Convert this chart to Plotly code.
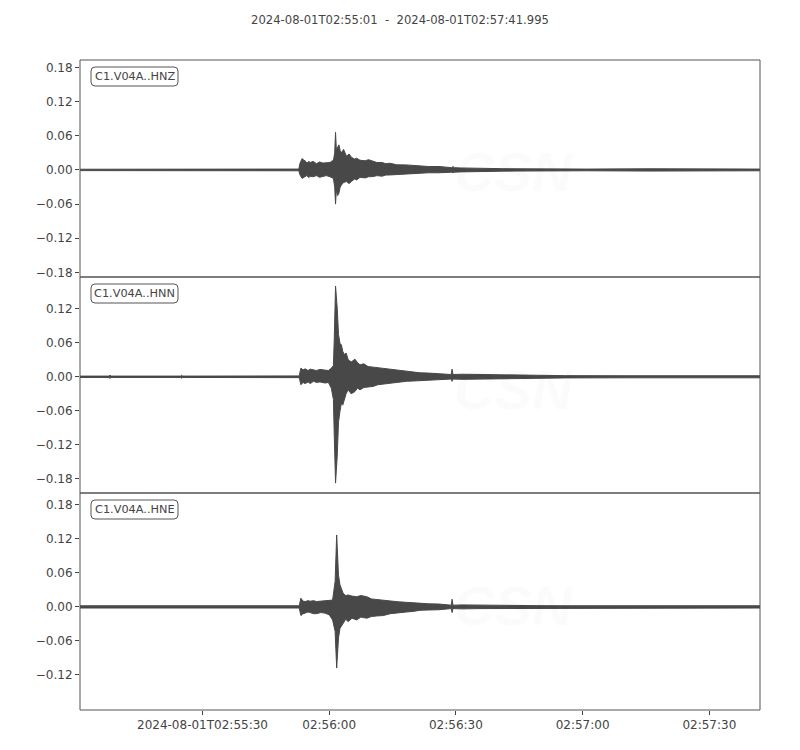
import pandas as pd
import plotly.graph_objects as go

# ---------------- data ----------------
start_time = "2024-08-01 02:55:01"
end_time = "2024-08-01 02:57:41.995"
title_text = "2024-08-01T02:55:01  -  2024-08-01T02:57:41.995"
channels = ["C1.V04A..HNZ", "C1.V04A..HNN", "C1.V04A..HNE"]

# envelope of each trace: seconds after start, upper and lower amplitude
hnz_t = [0, 28, 51.8, 52.1, 52.6, 53.0, 53.3, 53.7, 54.2, 54.5, 55.2, 56, 56.7, 57.5, 58.3,
         59.2, 59.7, 60.0, 60.3, 60.5, 60.7, 61.0, 61.3, 61.6, 61.95, 62.4, 63.1, 63.7, 64.3,
         65.0, 65.5, 66.3, 67.5, 68.3, 69.4, 70.3, 71.5, 72.4, 73.4, 75.0, 77.3, 78.5, 80.5,
         82.5, 85, 87.0, 88.0, 88.3, 88.6, 90, 92, 94, 97, 100, 103, 110, 120, 135, 150, 161]
hnz_up = [0.0012, 0.0012, 0.0015, 0.012, 0.020, 0.017, 0.016, 0.012, 0.015, 0.013, 0.015,
          0.011, 0.014, 0.012, 0.013, 0.013, 0.016, 0.016, 0.030, 0.066, 0.035, 0.040, 0.044,
          0.034, 0.030, 0.036, 0.024, 0.028, 0.022, 0.019, 0.0205, 0.017, 0.016, 0.018, 0.0146,
          0.013, 0.013, 0.011, 0.0117, 0.009, 0.0088, 0.008, 0.007, 0.006, 0.006, 0.004, 0.004,
          0.006, 0.004, 0.0035, 0.003, 0.0028, 0.0025, 0.0022, 0.002, 0.0015, 0.0015, 0.002,
          0.002, 0.0015]
hnz_lo = [-0.0012, -0.0012, -0.0015, -0.009, -0.015, -0.013, -0.012, -0.010, -0.0135,
          -0.011, -0.012, -0.010, -0.013, -0.012, -0.010, -0.012, -0.014, -0.015, -0.030,
          -0.060, -0.035, -0.045, -0.041, -0.030, -0.026, -0.022, -0.0205, -0.024, -0.020,
          -0.016, -0.0175, -0.013, -0.014, -0.012, -0.0117, -0.010, -0.011, -0.009, -0.0088,
          -0.008, -0.0076, -0.007, -0.0065, -0.005, -0.005, -0.004, -0.004, -0.005, -0.004,
          -0.0035, -0.003, -0.0028, -0.0025, -0.0022, -0.002, -0.0015, -0.0015, -0.002,
          -0.002, -0.0015]

hnn_t = [0, 6.9, 7.1, 7.3, 23.9, 24.1, 24.3, 51.9, 52.3, 52.8, 53.3, 54.0, 54.5, 55.3, 56,
         56.8, 58, 58.8, 59.5, 60.0, 60.2, 60.5, 60.9, 61.2, 61.55, 61.9, 62.2, 62.6, 63.0,
         63.5, 64.2, 65.1, 65.7, 66.3, 67.2, 68.2, 69.4, 70.5, 71.5, 73.4, 75.3, 77.3, 78.8,
         80.5, 82.5, 85, 87.9, 88.1, 88.3, 90.5, 94.7, 98, 102.5, 108, 115, 130, 161]
hnn_up = [0.0012, 0.0012, 0.003, 0.0012, 0.0012, 0.0025, 0.0012, 0.0015, 0.0153, 0.012,
          0.014, 0.011, 0.0135, 0.012, 0.011, 0.013, 0.0125, 0.011, 0.015, 0.020, 0.068,
          0.160, 0.121, 0.075, 0.059, 0.056, 0.045, 0.039, 0.042, 0.030, 0.026, 0.031, 0.025,
          0.021, 0.023, 0.018, 0.017, 0.016, 0.014, 0.0123, 0.011, 0.0094, 0.008, 0.007,
          0.0065, 0.0055, 0.004, 0.0135, 0.004, 0.0045, 0.004, 0.0035, 0.003, 0.0025, 0.002,
          0.0018, 0.0018]
hnn_lo = [-0.0012, -0.0012, -0.003, -0.0012, -0.0012, -0.0025, -0.0012, -0.0015, -0.014,
          -0.010, -0.012, -0.009, -0.012, -0.008, -0.010, -0.009, -0.011, -0.010, -0.020,
          -0.040, -0.105, -0.1875, -0.140, -0.080, -0.061, -0.046, -0.050, -0.041, -0.030,
          -0.023, -0.030, -0.026, -0.020, -0.023, -0.019, -0.018, -0.017, -0.014, -0.013,
          -0.011, -0.010, -0.008, -0.0075, -0.007, -0.006, -0.0055, -0.004, -0.008, -0.004,
          -0.0045, -0.004, -0.0035, -0.003, -0.0025, -0.002, -0.0018, -0.0018]

hne_t = [0, 20, 40, 51.9, 52.3, 52.8, 53.3, 54.0, 54.5, 55.3, 56, 57.0, 58, 59.0, 59.8, 60.4,
         60.77, 61.2, 61.55, 62.0, 62.3, 62.9, 63.5, 64.4, 65.5, 66.5, 67.9, 69.0, 70.3, 71.8,
         73.5, 75.3, 77.3, 78.8, 80.5, 82.5, 85, 87.9, 88.1, 88.3, 90.5, 94.7, 98, 102.5, 108,
         115, 130, 161]
hne_up = [0.002, 0.0018, 0.002, 0.002, 0.0153, 0.010, 0.0094, 0.011, 0.010, 0.011, 0.0094,
          0.010, 0.010, 0.011, 0.012, 0.045, 0.127, 0.056, 0.039, 0.030, 0.024, 0.020, 0.021,
          0.019, 0.018, 0.020, 0.018, 0.014, 0.013, 0.0106, 0.010, 0.009, 0.008, 0.007, 0.006,
          0.0055, 0.005, 0.003, 0.0135, 0.003, 0.0035, 0.003, 0.003, 0.0025, 0.0022, 0.002,
          0.002, 0.002]
hne_lo = [-0.002, -0.0018, -0.002, -0.002, -0.0153, -0.012, -0.011, -0.009, -0.010, -0.012,
          -0.012, -0.010, -0.011, -0.014, -0.023, -0.043, -0.108, -0.055, -0.038, -0.032,
          -0.029, -0.022, -0.026, -0.020, -0.023, -0.018, -0.020, -0.017, -0.016, -0.0153,
          -0.012, -0.010, -0.009, -0.008, -0.006, -0.0055, -0.005, -0.003, -0.010, -0.003,
          -0.0035, -0.003, -0.003, -0.0025, -0.0022, -0.002, -0.002, -0.002]

y_ranges = [[-0.188, 0.193], [-0.205, 0.176], [-0.182, 0.201]]
y_ticks = [[0.18, 0.12, 0.06, 0.0, -0.06, -0.12, -0.18],
           [0.12, 0.06, 0.0, -0.06, -0.12, -0.18],
           [0.18, 0.12, 0.06, 0.0, -0.06, -0.12]]
x_tick_times = ["2024-08-01 02:55:30", "2024-08-01 02:56:00", "2024-08-01 02:56:30",
                "2024-08-01 02:57:00", "2024-08-01 02:57:30"]
x_tick_labels = ["2024-08-01T02:55:30", "02:56:00", "02:56:30", "02:57:00", "02:57:30"]

# ---------------- figure ----------------
OFF = 8  # page body margin in the browser
W, H = 800 - OFF, 750 - OFF
L, R, T, B = 80 - OFF, 40, 60 - OFF, 40
plot_w, plot_h = W - L - R, H - T - B
# panel extents in page pixels
panel_px = [(60, 277), (277, 493), (493, 710)]


def py(ypx):
    return (750 - 40 - ypx) / plot_h


def px(xpx):
    return (xpx - 80) / plot_w


t0 = pd.Timestamp(start_time)
traces = [(hnz_t, hnz_up, hnz_lo), (hnn_t, hnn_up, hnn_lo), (hne_t, hne_up, hne_lo)]
color = "#484848"
text_color = "#444444"
font_family = "DejaVu Sans"

fig = go.Figure()
for i, (tt, up, lo) in enumerate(traces):
    times = t0 + pd.to_timedelta(tt, unit="s")
    yname = "y" if i == 0 else f"y{i+1}"
    fig.add_trace(go.Scatter(x=times, y=up, mode="lines", line=dict(color=color, width=1),
                             yaxis=yname, xaxis="x", showlegend=False, hoverinfo="skip"))
    fig.add_trace(go.Scatter(x=times, y=lo, mode="lines", line=dict(color=color, width=1),
                             fill="tonexty", fillcolor=color,
                             yaxis=yname, xaxis="x", showlegend=False, hoverinfo="skip"))


def fmt(v):
    s = f"{abs(v):.2f}"
    return ("\u2212" + s) if v < 0 else s


layout = dict(
    width=W, height=H, autosize=False,
    margin=dict(l=L, r=R, t=T, b=B, pad=0),
    paper_bgcolor="white", plot_bgcolor="white",
    font=dict(family=font_family, size=12, color=text_color),
    title=dict(text=title_text.replace(" ", "\u00a0"), x=(400 - OFF) / W, xref="container",
               xanchor="center", y=1 - (20 - OFF) / H, yanchor="middle",
               font=dict(size=11.6, color=text_color)),
    xaxis=dict(
        type="date", range=[start_time, end_time], anchor="y3",
        tickvals=x_tick_times, ticktext=x_tick_labels,
        ticks="outside", ticklen=4, tickcolor=text_color, showgrid=False,
        zeroline=False, showline=False, tickfont=dict(size=12, color=text_color),
    ),
)
for i in range(3):
    key = "yaxis" if i == 0 else f"yaxis{i+1}"
    top, bot = panel_px[i]
    layout[key] = dict(
        domain=[py(bot), py(top)], anchor="x", range=y_ranges[i],
        tickvals=y_ticks[i], ticktext=[fmt(v) for v in y_ticks[i]],
        ticks="outside", ticklen=4, tickcolor=text_color, showgrid=False,
        zeroline=False, showline=False, tickfont=dict(size=12, color=text_color),
    )
fig.update_layout(**layout)

shapes = []
annotations = []
for i in range(3):
    top, bot = panel_px[i]
    shapes.append(dict(type="rect", xref="paper", yref="paper", x0=0, x1=1,
                       y0=py(bot), y1=py(top), line=dict(color="#555555", width=1),
                       fillcolor="rgba(0,0,0,0)", layer="above"))
    # rounded label box
    bx0, bx1 = 91, 178
    by0, by1 = top + 7, top + 26
    r = 4
    path = (f"M {px(bx0 + r)},{py(by0)} L {px(bx1 - r)},{py(by0)} "
            f"Q {px(bx1)},{py(by0)} {px(bx1)},{py(by0 + r)} "
            f"L {px(bx1)},{py(by1 - r)} Q {px(bx1)},{py(by1)} {px(bx1 - r)},{py(by1)} "
            f"L {px(bx0 + r)},{py(by1)} Q {px(bx0)},{py(by1)} {px(bx0)},{py(by1 - r)} "
            f"L {px(bx0)},{py(by0 + r)} Q {px(bx0)},{py(by0)} {px(bx0 + r)},{py(by0)} Z")
    shapes.append(dict(type="path", xref="paper", yref="paper", path=path,
                       line=dict(color="#555555", width=1), fillcolor="white", layer="above"))
    annotations.append(dict(text=channels[i], xref="paper", yref="paper",
                            x=px((bx0 + bx1) / 2), y=py((by0 + by1) / 2),
                            xanchor="center", yanchor="middle", showarrow=False,
                            font=dict(size=11.3, color=text_color, family=font_family)))
    # very faint watermark
    annotations.append(dict(text="<b><i>CSN</i></b>", xref="paper", yref="paper",
                            x=px(452), y=py(top + 112), xanchor="left", yanchor="middle",
                            showarrow=False,
                            font=dict(size=56, color="rgba(0,0,0,0.015)", family="Liberation Sans")))
    annotations.append(dict(text="<i>CENTRO SISMOLÓGICO NACIONAL<br>UNIVERSIDAD DE CHILE</i>",
                            xref="paper", yref="paper", x=px(532), y=py(top + 172),
                            xanchor="left", yanchor="middle", align="left", showarrow=False,
                            font=dict(size=16, color="rgba(0,0,0,0.02)", family="Liberation Sans Narrow")))

fig.update_layout(shapes=shapes, annotations=annotations)
fig.write_html("out.html")
